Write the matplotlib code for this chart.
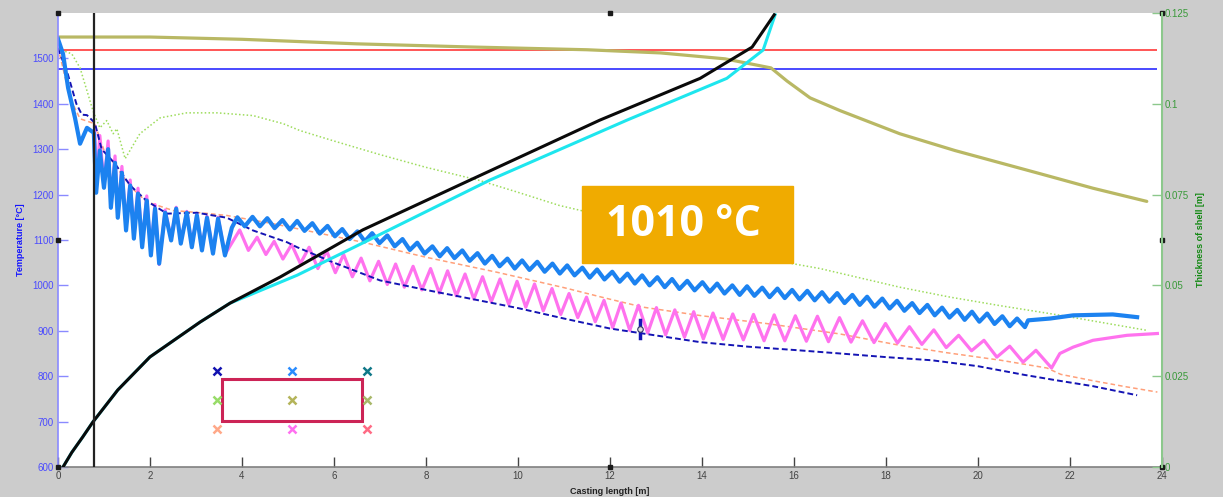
import numpy as np
import matplotlib
matplotlib.use('Agg')
import matplotlib.pyplot as plt

plt.rcParams['font.family'] = ['Liberation Sans', 'DejaVu Sans']

# ---- datos ----

# temperatura superficie (azul), zona molde + enfriamiento secundario
blue_head_x = [0.00, 0.11, 0.22, 0.37, 0.48, 0.63, 0.78, 0.83, 0.91, 1.00, 1.09, 1.15, 1.24, 1.30, 1.39,
               1.48, 1.57, 1.65, 1.74, 1.83, 1.93, 2.02, 2.11, 2.20, 2.33, 2.46, 2.57, 2.67, 2.80, 2.91,
               3.02, 3.13, 3.24, 3.37, 3.48, 3.63, 3.78]
blue_head_t = [1543, 1510, 1435, 1369, 1312, 1347, 1336, 1204, 1297, 1215, 1300, 1171, 1270, 1149, 1248,
               1121, 1220, 1103, 1202, 1084, 1187, 1066, 1169, 1048, 1160, 1099, 1169, 1092, 1160, 1084,
               1154, 1077, 1149, 1070, 1147, 1066, 1127]
blue_peak_x = [3.90, 4.23, 4.55, 4.88, 5.20, 5.53, 5.86, 6.18, 6.51, 6.83, 7.16, 7.49, 7.81, 8.14, 8.46,
               8.79, 9.12, 9.44, 9.77, 10.09, 10.42, 10.75, 11.07, 11.40, 11.72, 12.05, 12.38, 12.70,
               13.03, 13.35, 13.68, 14.01, 14.33, 14.66, 14.98, 15.31, 15.64, 15.96, 16.29, 16.61, 16.94,
               17.27, 17.59, 17.92, 18.24, 18.57, 18.90, 19.22, 19.55, 19.87, 20.20, 20.53, 20.85]
blue_peak_t = [1150, 1151, 1148, 1144, 1142, 1137, 1131, 1124, 1119, 1115, 1110, 1102, 1094, 1086, 1082,
               1077, 1071, 1065, 1059, 1055, 1052, 1048, 1044, 1039, 1035, 1030, 1026, 1022, 1018, 1014,
               1010, 1007, 1004, 1000, 998, 995, 993, 990, 988, 985, 983, 979, 975, 971, 966, 961, 957,
               951, 946, 942, 938, 932, 927]
blue_trough_x = [4.06, 4.39, 4.71, 5.04, 5.36, 5.69, 6.02, 6.34, 6.67, 6.99, 7.32, 7.65, 7.97, 8.30, 8.62,
                 8.95, 9.28, 9.60, 9.93, 10.25, 10.58, 10.91, 11.23, 11.56, 11.88, 12.21, 12.54, 12.86,
                 13.19, 13.51, 13.84, 14.17, 14.49, 14.82, 15.14, 15.47, 15.80, 16.12, 16.45, 16.77,
                 17.10, 17.43, 17.75, 18.08, 18.40, 18.73, 19.06, 19.38, 19.71, 20.03, 20.36, 20.69, 21.02]
blue_trough_t = [1130, 1130, 1126, 1123, 1120, 1114, 1108, 1102, 1097, 1093, 1086, 1078, 1070, 1064, 1060,
                 1054, 1048, 1042, 1037, 1034, 1030, 1026, 1022, 1017, 1013, 1008, 1004, 1000, 996, 992,
                 989, 986, 982, 979, 977, 974, 972, 969, 967, 964, 961, 957, 953, 949, 944, 939, 934,
                 929, 924, 920, 915, 910, 908]
blue_tail_x = [21.09, 21.57, 22.07, 22.93, 23.46]
blue_tail_t = [923, 927, 934, 936, 930]

# temperatura (magenta)
mag_head_x = [0.80, 0.83, 0.91, 1.00, 1.09, 1.15, 1.24, 1.30, 1.39, 1.48, 1.57, 1.65, 1.74, 1.83, 1.93,
              2.02, 2.11, 2.20, 2.33, 2.46, 2.57, 2.67, 2.80, 2.91, 3.02, 3.13, 3.24, 3.37, 3.48, 3.63]
mag_head_t = [1340, 1210, 1330, 1220, 1318, 1180, 1285, 1155, 1262, 1128, 1232, 1108, 1214, 1090, 1197,
              1070, 1178, 1046, 1166, 1102, 1172, 1095, 1163, 1087, 1157, 1080, 1152, 1073, 1150, 1068]
mag_peak_x = [3.95, 4.33, 4.70, 5.08, 5.46, 5.84, 6.21, 6.59, 6.97, 7.34, 7.72, 8.10, 8.47, 8.85, 9.23,
              9.61, 9.98, 10.36, 10.74, 11.11, 11.49, 11.87, 12.24, 12.62, 13.01, 13.41, 13.82, 14.24,
              14.67, 15.12, 15.57, 16.03, 16.51, 16.99, 17.49, 17.99, 18.51, 19.04, 19.58, 20.13,
              20.69, 21.26]
mag_peak_t = [1122, 1106, 1097, 1090, 1084, 1076, 1068, 1060, 1053, 1047, 1042, 1037, 1032, 1025, 1019,
              1014, 1009, 1003, 993, 982, 974, 967, 961, 956, 951, 946, 942, 939, 937, 936, 935, 933,
              932, 929, 922, 916, 909, 902, 890, 879, 866, 857]
mag_trough_x = [4.14, 4.52, 4.89, 5.27, 5.65, 6.03, 6.40, 6.78, 7.16, 7.53, 7.91, 8.29, 8.66, 9.04, 9.42,
                9.80, 10.17, 10.55, 10.93, 11.30, 11.68, 12.06, 12.43, 12.82, 13.21, 13.62, 14.03, 14.46,
                14.90, 15.35, 15.80, 16.27, 16.75, 17.24, 17.74, 18.25, 18.78, 19.31, 19.86, 20.41,
                20.98, 21.60]
mag_trough_t = [1077, 1068, 1058, 1048, 1037, 1028, 1019, 1010, 1002, 996, 990, 983, 977, 970, 964,
                958, 952, 944, 936, 929, 920, 907, 901, 895, 891, 886, 882, 881, 880, 878, 878, 877,
                876, 875, 874, 873, 870, 863, 856, 842, 831, 818]
mag_tail_x = [21.78, 22.07, 22.50, 23.24, 23.90]
mag_tail_t = [850, 864, 879, 890, 894]

# lineas punteadas / discontinuas
navy_x = [0.0, 0.2, 0.4, 0.52, 0.63, 0.8, 0.95, 1.24, 1.57, 1.93, 2.37, 3.02, 3.67, 4.24, 4.98, 5.2, 6.0,
          7.0, 8.0, 8.8, 10.0, 11.0, 12.0, 12.65, 13.96, 15.0, 16.1, 17.0, 18.0, 19.0, 20.0, 21.0, 21.7,
          22.5, 23.46]
navy_t = [1522, 1470, 1400, 1376, 1375, 1358, 1300, 1268, 1220, 1186, 1158, 1160, 1149, 1121, 1095, 1084,
          1050, 1011, 990, 974, 950, 927, 905, 895, 875, 865, 857, 850, 842, 835, 822, 803, 791, 778, 758]
salmon_x = [0.0, 0.26, 0.48, 0.8, 1.0, 1.24, 1.57, 1.93, 2.5, 3.09, 3.67, 4.67, 6.63, 8.0, 9.54, 11.0,
            11.9, 12.72, 14.0, 15.4, 17.0, 18.3, 19.3, 20.5, 21.5, 21.8, 22.5, 23.2, 23.9]
salmon_t = [1525, 1413, 1367, 1356, 1298, 1266, 1218, 1184, 1165, 1160, 1154, 1136, 1095, 1062, 1029,
            995, 972, 952, 933, 916, 893, 868, 852, 835, 818, 804, 790, 777, 765]
green_x = [0.0, 0.3, 0.48, 0.65, 0.76, 0.91, 1.06, 1.2, 1.28, 1.46, 1.78, 2.22, 2.8, 3.46, 4.24, 4.9,
           5.26, 6.0, 7.0, 8.0, 9.17, 10.0, 10.9, 12.0, 13.0, 14.0, 15.0, 15.85, 16.57, 18.3, 19.4,
           20.5, 21.8, 23.67]
green_t = [1521, 1510, 1479, 1422, 1385, 1347, 1363, 1334, 1345, 1279, 1334, 1369, 1380, 1380, 1374,
           1356, 1341, 1318, 1288, 1260, 1231, 1205, 1176, 1150, 1125, 1100, 1074, 1050, 1037, 996, 974,
           955, 934, 901]
olive_x = [0, 2, 4, 6.5, 9, 11.5, 13.1, 14.5, 15.5, 15.85, 16.35, 17.0, 18.3, 19.5, 21.35, 22.5, 23.67]
olive_t = [1547, 1547, 1542, 1532, 1525, 1519, 1512, 1499, 1479, 1450, 1413, 1385, 1334, 1297, 1246,
           1214, 1185]

liquidus_t = 1519
solidus_t = 1477
ref_line_end = 23.9
mould_end = 0.78
cursor_x, cursor_t = 12.65, 905

# espesor de capa solidificada (eje derecho)
black_x = [0.11, 0.30, 0.54, 0.76, 1.30, 2.00, 3.09, 3.74, 4.83, 6.63, 8.96, 11.78, 13.96, 15.09, 15.57]
black_th = [0.0, 0.0040, 0.0083, 0.0124, 0.0212, 0.0303, 0.0399, 0.0451, 0.0523, 0.0653, 0.0790,
            0.0955, 0.1070, 0.1156, 0.1245]
cyan_x = [0.11, 0.30, 0.54, 0.76, 1.30, 2.00, 3.09, 3.74, 5.20, 6.63, 9.39, 12.37, 14.54, 15.33, 15.59]
cyan_th = [0.0, 0.0040, 0.0083, 0.0124, 0.0212, 0.0303, 0.0399, 0.0451, 0.0528, 0.0617, 0.0790,
           0.0955, 0.1070, 0.1148, 0.1245]

temp_ticks = [600, 700, 800, 900, 1000, 1100, 1200, 1300, 1400, 1500]
thick_ticks = [0, 0.025, 0.05, 0.075, 0.1, 0.125]
thick_labels = ['0', '0.025', '0.05', '0.075', '0.1', '0.125']
x_ticks = [0, 2, 4, 6, 8, 10, 12, 14, 16, 18, 20, 22, 24]

# esquema de la seccion: posiciones de los puntos de medicion
probe_x = [-1, 0, 1, -1, 0, 1, -1, 0, 1]
probe_y = [1, 1, 1, 0, 0, 0, -1, -1, -1]
probe_colors = ['#1212b0', '#2a8cff', '#107888', '#98dc68', '#b4b45a', '#a8b868', '#ffa888', '#ff70f0', '#ff6a84']
section_w, section_h = 0.93, 0.73

badge_text = '1010 °C'


def zigzag(head_x, head_t, px, pt, tx, tt, tail_x, tail_t):
    wx = np.array(px + tx)
    wt = np.array(pt + tt)
    order = np.argsort(wx)
    xs = np.concatenate([head_x, wx[order], tail_x])
    ts = np.concatenate([head_t, wt[order], tail_t])
    return xs, ts


blue_x, blue_t = zigzag(blue_head_x, blue_head_t, blue_peak_x, blue_peak_t,
                        blue_trough_x, blue_trough_t, blue_tail_x, blue_tail_t)
mag_x, mag_t = zigzag(mag_head_x, mag_head_t, mag_peak_x, mag_peak_t,
                      mag_trough_x, mag_trough_t, mag_tail_x, mag_tail_t)

# ---- figura ----
fig = plt.figure(figsize=(12.23, 4.97), dpi=100, facecolor='#cccccc')
ax = fig.add_axes([0.0474, 0.0604, 0.9027, 0.9135])
ax.set_facecolor('white')

ax.hlines(liquidus_t, 0, ref_line_end, color='#ff3838', lw=1.2)
ax.hlines(solidus_t, 0, ref_line_end, color='#2a2aff', lw=1.2)
ax.plot(olive_x, olive_t, color='#b9b864', lw=2.3, solid_capstyle='round')
ax.plot(green_x, green_t, color='#9ddc5c', lw=1.1, ls=(0, (1, 1.5)))
ax.plot(salmon_x, salmon_t, color='#ffa07a', lw=1.1, ls=(0, (3, 2)))
ax.plot(mag_x, mag_t, color='#ff72ee', lw=2.3, solid_joinstyle='round')
ax.plot(navy_x, navy_t, color='#1414b4', lw=1.4, ls=(0, (3, 1.6)))
ax.plot(blue_x, blue_t, color='#1c82f0', lw=3.0, solid_joinstyle='round')

# cursor de datos sobre la linea azul oscura
ax.plot([cursor_x, cursor_x], [cursor_t - 22, cursor_t + 18], color='#1414b4', lw=2.5)
ax.plot([cursor_x], [cursor_t], marker='o', ms=4, mfc='#dddddd', mec='#333366', mew=0.8)

ax.set_xlim(0, 24)
ax.set_ylim(600, 1600)
ax.set_xticks(x_ticks)
ax.set_yticks(temp_ticks)
ax.tick_params(axis='x', direction='in', length=7, width=1, colors='#444444', labelsize=7, pad=3)
ax.tick_params(axis='y', direction='in', length=7, width=1, color='#8a8aff', labelcolor='#4a4aff',
               labelsize=7, pad=3)
ax.spines['top'].set_visible(False)
ax.spines['right'].set_visible(False)
ax.spines['left'].set_color('#8a8aff')
ax.spines['left'].set_linewidth(1.2)
ax.spines['bottom'].set_color('#808080')
ax.spines['bottom'].set_linewidth(1.2)
ax.set_xlabel('Casting length [m]', fontsize=6.5, fontweight='bold', color='#222222', labelpad=4)
ax.set_ylabel('Temperature [°C]', fontsize=6.5, fontweight='bold', color='#1515ff', labelpad=5)

ax2 = ax.twinx()
ax2.set_ylim(0, 0.125)
ax2.set_yticks(thick_ticks)
ax2.set_yticklabels(thick_labels)
ax2.plot(cyan_x, cyan_th, color='#1ee6ee', lw=2.2)
ax2.plot(black_x, black_th, color='#0a0a0a', lw=2.2)
ax2.axvline(mould_end, color='#222222', lw=1.6)
ax2.tick_params(axis='y', direction='in', length=7, width=1, color='#8cc88c', labelcolor='#3a9a3a',
                labelsize=7, pad=2)
for side in ['top', 'left', 'bottom']:
    ax2.spines[side].set_visible(False)
ax2.spines['right'].set_color('#8cc88c')
ax2.spines['right'].set_linewidth(1.5)
ax2.set_ylabel('Thickness of shell [m]', fontsize=6.5, fontweight='bold', color='#118811', labelpad=5)

# marcadores de seleccion en los bordes del eje
handles_ax = [(0, 1), (0.5, 1), (1, 1), (0, 0.5), (1, 0.5), (0, 0), (0.5, 0), (1, 0)]
for hx, hy in handles_ax:
    ax2.plot([hx], [hy], marker='s', ms=3.5, color='#1a1a1a', transform=ax2.transAxes, clip_on=False)

# esquema de la seccion con los puntos de medicion
ins = fig.add_axes([0.1652, 0.1147, 0.1472, 0.161])
ins.set_xlim(-1.2, 1.2)
ins.set_ylim(-1.4, 1.4)
ins.axis('off')
ins.add_patch(plt.Rectangle((-section_w, -section_h), 2 * section_w, 2 * section_h,
                            fill=False, ec='#cc2456', lw=2.2))
for px_, py_, c in zip(probe_x, probe_y, probe_colors):
    ins.plot(px_, py_, marker='x', ms=6, mew=1.8, color=c)

# etiqueta naranja
fig.patches.append(plt.Rectangle((0.4759, 0.4708), 0.1725, 0.155, transform=fig.transFigure,
                                 color='#f0ab00', zorder=5))
fig.text(0.4759 + 0.1725 / 2 - 0.003, 0.4708 + 0.155 / 2, badge_text, ha='center', va='center',
         fontsize=31, fontweight='bold', color='white', family=['Open Sans', 'DejaVu Sans'], zorder=6)

fig.savefig('out.png', dpi=100, facecolor=fig.get_facecolor())
